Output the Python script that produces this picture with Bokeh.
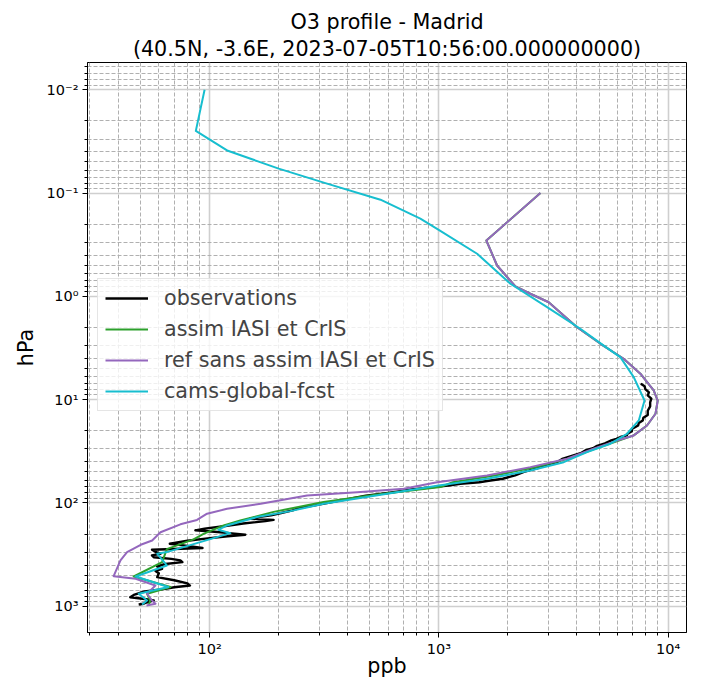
from bokeh.plotting import figure
from bokeh.models import (Range1d, FixedTicker, CustomJSTickFormatter, Legend,
                          LegendItem, ColumnDataSource, Title)
from bokeh.embed import file_html
from bokeh.resources import INLINE

# ---------------- data (pressure hPa, ozone ppb) ----------------
obs_p = [7.0, 7.4, 7.9, 8.5, 9.1, 9.8, 10.6, 11.6, 12.8, 14.1, 15.0, 15.9, 16.8,
         17.8, 19.2, 20.2, 21.4, 22.2, 23.0, 24.0, 25.0, 26.5, 28.0, 29.5, 31.0,
         33.0, 35.0, 37.5, 40.0, 43.0, 46.0, 50.0, 54.0, 58.3, 61.0, 63.0, 65.2,
         68.0, 71.0, 74.0, 76.9, 80.0, 85.0, 90.0, 96.0, 101.0, 106.0, 112.0,
         118.0, 125.0, 132.0, 138.0, 142.0, 146.0, 150.0, 158.0, 168.0, 177.0,
         184.0, 190.0, 197.0, 203.0, 210.0, 220.0, 232.0, 248.0, 260.0, 273.0,
         284.0, 297.0, 310.0, 322.0, 335.0, 348.0, 360.0, 374.0, 390.0, 412.0,
         434.0, 455.0, 480.0, 523.0, 560.0, 600.0, 630.0, 655.0, 678.0, 720.0,
         770.0, 817.0, 850.0, 879.0, 920.0, 946.0, 962.0]
obs_v = [7600, 7900, 7950, 8250, 8150, 8450, 8350, 8350, 8150, 8150, 7800, 7750, 7450,
         7400, 6950, 6950, 6650, 6600, 6200, 5950, 5600, 5300, 4900, 4700, 4350,
         4150, 3800, 3450, 3300, 2900, 2700, 2350, 2150, 1900, 1650, 1500, 1240,
         1100, 900, 760, 680, 600, 480, 420, 360, 320, 284, 245,
         230, 205, 185, 160, 150, 190, 175, 140, 115, 95,
         86.6, 105, 125, 143, 120, 98, 80, 67, 80, 93,
         56, 58, 61, 56, 57, 68, 74.5, 76, 64, 59,
         62, 58, 60, 59, 70, 80, 82, 70, 64, 52,
         47, 45, 52, 57, 53, 51.5, 49]

assim_p = [0.1, 0.288, 0.503, 0.80, 0.944, 1.14, 1.99, 2.88, 4.02, 5.61, 8.15, 10.2,
           13.7, 17.8, 22.2, 24.9, 29.9, 37.3, 45.0, 54.2, 63.0, 70.0, 82.8, 98.0,
           122.0, 148.0, 165.0, 199.0, 225.0, 280.0, 374.0, 515.0, 652.0, 757.0,
           879.0, 982.0]
assim_v = [2773, 1611, 1794, 2157, 2507, 3013, 4006, 5070, 6400, 7570, 8650, 9010,
           8810, 8090, 7080, 6100, 4800, 3650, 2650, 1750, 1150, 1016, 538, 314,
           190, 136, 115, 94, 85, 65, 62, 46.6, 67.4, 53.3,
           55, 54.2]

ref_p = [0.1, 0.288, 0.503, 0.80, 0.944, 1.14, 1.99, 2.88, 4.02, 5.61, 8.15, 10.2,
         13.7, 17.8, 22.2, 24.9, 29.9, 37.3, 45.0, 54.2, 63.0, 73.0, 78.7, 84.6,
         102.0, 114.0, 127.0, 146.0, 161.0, 192.0, 231.0, 254.0, 300.0, 360.0,
         511.0, 542.0, 630.0, 757.0, 879.0, 946.0, 982.0]
ref_v = [2773, 1611, 1794, 2157, 2507, 3013, 4006, 5070, 6400, 7570, 8650, 9010,
         8810, 8090, 7080, 5990, 4730, 3625, 2507, 1622, 982, 703, 440, 266,
         167, 119, 97.4, 88, 74.5, 61, 56.1, 50, 43.6, 40.8,
         38.1, 47.5, 58, 53.3, 56, 58, 53]

cams_p = [0.01, 0.025, 0.039, 0.058, 0.081, 0.116, 0.177, 0.222, 0.387, 0.755, 1.27,
          2.06, 3.0, 3.9, 6.05, 10.2, 15.9, 21.4, 26.7, 32.2, 40.3, 48.5, 58.3,
          67.8, 80.4, 102.0, 120.0, 137.0, 165.0, 182.0, 196.0, 299.0, 310.0,
          403.0, 515.0, 652.0, 757.0, 879.0, 962.0]
cams_v = [95, 87, 120, 200, 325, 556, 830, 982, 1468, 2051, 2965,
          4140, 5240, 6200, 7080, 7890, 7450, 6620, 5600, 4430, 3505, 2507, 1622,
          998, 614, 314, 225, 161, 119, 109, 123, 65, 59,
          65, 47.5, 66, 49, 53.3, 50.7]

x_major = [100, 1000, 10000]
x_minor = [m * 10 ** k for k in (1, 2, 3) for m in range(2, 10)]
y_major = [0.01, 0.1, 1, 10, 100, 1000]
y_minor = [m * 10.0 ** k for k in (-3, -2, -1, 0, 1, 2, 3) for m in range(2, 10)]

title_lines = ["O3 profile - Madrid",
               "(40.5N, -3.6E, 2023-07-05T10:56:00.000000000)"]

series = [
    ("observations", obs_p, obs_v, "black", 2.4),
    ("assim IASI et CrIS", assim_p, assim_v, "#2ca02c", 2),
    ("ref sans assim IASI et CrIS", ref_p, ref_v, "#9467bd", 2),
    ("cams-global-fcst", cams_p, cams_v, "#17becf", 2),
]

FONT = "DejaVu Sans"
BIG = "20.7px"

p = figure(width=705, height=689, x_axis_type="log", y_axis_type="log",
           x_range=Range1d(29.3, 12030), y_range=Range1d(1795, 0.00545),
           output_backend="svg", toolbar_location=None,
           min_border_left=87, min_border_right=19, min_border_top=62,
           min_border_bottom=57, background_fill_color="white",
           border_fill_color="white")

# p.title ends up outermost; the added Title sits next to the frame
p.title.text = title_lines[0]
p.title.align = "center"
p.title.text_font = FONT
p.title.text_font_size = BIG
p.title.text_font_style = "normal"
p.title.text_color = "black"
p.title.standoff = 0
p.add_layout(Title(text=title_lines[1], align="center", text_font=FONT,
                   text_font_size=BIG, text_font_style="normal",
                   text_color="black", standoff=3), "above")

fmt = CustomJSTickFormatter(code="""
const e = Math.round(Math.log10(tick));
const sup = {'-':'\u207b','0':'\u2070','1':'\u00b9','2':'\u00b2','3':'\u00b3','4':'\u2074','5':'\u2075','6':'\u2076','7':'\u2077','8':'\u2078','9':'\u2079'};
return '10' + String(e).split('').map(c => sup[c]).join('');
""")

for ax, major, minor, label in ((p.xaxis[0], x_major, x_minor, "ppb"),
                                (p.yaxis[0], y_major, y_minor, "hPa")):
    ax.ticker = FixedTicker(ticks=major, minor_ticks=minor)
    ax.formatter = fmt
    ax.axis_label = label
    ax.axis_label_text_font = FONT
    ax.axis_label_text_font_size = BIG
    ax.axis_label_text_font_style = "normal"
    ax.axis_label_text_color = "black"
    ax.major_label_text_font = FONT
    ax.major_label_text_font_size = "14.5px"
    ax.major_label_text_color = "black"
    ax.major_tick_in = 0
    ax.major_tick_out = 5
    ax.minor_tick_in = 0
    ax.minor_tick_out = 3
    ax.axis_line_color = "black"
    ax.major_tick_line_color = "black"
    ax.minor_tick_line_color = "black"

p.xaxis[0].axis_label_standoff = -6
p.xaxis[0].major_label_standoff = 3
p.yaxis[0].axis_label_standoff = 6
p.yaxis[0].major_label_standoff = 4

for g in (p.xgrid[0], p.ygrid[0]):
    g.grid_line_color = "#cfcfcf"
    g.grid_line_width = 1.6
    g.minor_grid_line_color = "#b0b0b0"
    g.minor_grid_line_width = 1
    g.minor_grid_line_dash = "4 2"

p.outline_line_color = "black"
p.outline_line_width = 1
p.outline_line_alpha = 1

items = []
for name, pp, vv, col, lw in series:
    src = ColumnDataSource(dict(x=vv, y=pp))
    r = p.line("x", "y", source=src, line_color=col, line_width=lw,
               line_join="round")
    items.append(LegendItem(label=name, renderers=[r]))

legend = Legend(items=items, location=(10, 221), label_text_font=FONT,
                label_text_font_size=BIG, glyph_width=43, glyph_height=20,
                label_height=20, label_standoff=16, spacing=7, padding=7,
                margin=0, border_line_color="#cccccc", border_line_width=1,
                background_fill_color="white", background_fill_alpha=0.8)
p.add_layout(legend)

open("out.html", "w").write(file_html(p, INLINE))
